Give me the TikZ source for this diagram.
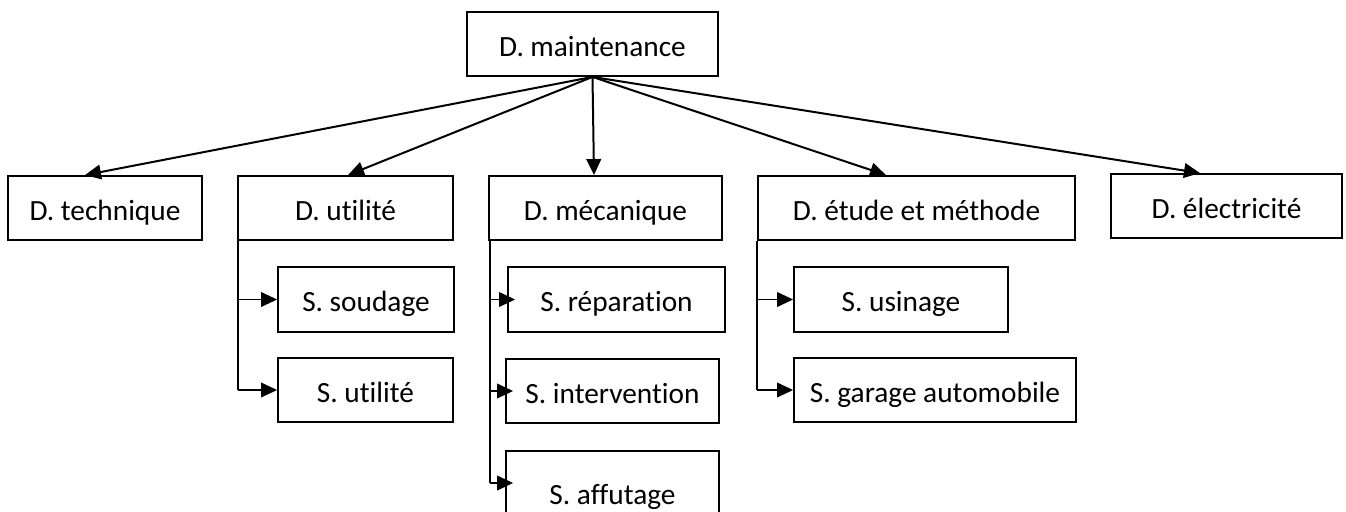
\documentclass[tikz,border=0pt]{standalone}
\usepackage{fontspec}
\setmainfont{Carlito}[Ligatures=NoCommon]
\usetikzlibrary{arrows.meta}
\begin{document}
\begin{tikzpicture}[x=0.75pt,y=-0.75pt,
  box/.style={draw,line width=1.4pt,inner sep=0pt,
    font=\fontsize{22pt}{26pt}\selectfont,
    text height=19.5pt,text depth=1.5pt},
  toparrow/.style={line width=1.5pt,-{Triangle[length=12pt,width=11pt]}},
  branchline/.style={line width=1pt},
  brancharrow/.style={line width=1.2pt,-{Triangle[length=12pt,width=11pt]}}]
\clip (0,0) rectangle (1346,511);

% head of the department
\node[box,minimum width=251*0.75pt,minimum height=64*0.75pt] (top) at (592.5,44) {D. maintenance};

% divisions
\node[box,minimum width=194*0.75pt,minimum height=64*0.75pt] (tech)  at (105,208)    {D. technique};
\node[box,minimum width=215*0.75pt,minimum height=64*0.75pt] (util)  at (345.5,208)  {D. utilité};
\node[box,minimum width=233*0.75pt,minimum height=64*0.75pt] (meca)  at (605.5,208)  {D. mécanique};
\node[box,minimum width=317*0.75pt,minimum height=64*0.75pt] (etude) at (916.5,208)  {D. étude et méthode};
\node[box,minimum width=231*0.75pt,minimum height=64*0.75pt] (elec)  at (1226.5,206) {D. électricité};

% services
\node[box,minimum width=176*0.75pt,minimum height=65*0.75pt] (soud)  at (366,299.5)   {S. soudage};
\node[box,minimum width=175*0.75pt,minimum height=64*0.75pt] (sutil) at (365.5,390)   {S. utilité};
\node[box,minimum width=217*0.75pt,minimum height=65*0.75pt] (repar) at (616.5,299.5) {S. réparation};
\node[box,minimum width=213*0.75pt,minimum height=64*0.75pt] (inter) at (612.5,391)   {S. intervention};
\node[box,minimum width=213*0.75pt,minimum height=64*0.75pt,
      text height=32.5pt,text depth=1pt] (affut) at (612.5,483) {S. affutage};
\node[box,minimum width=214*0.75pt,minimum height=65*0.75pt] (usin)  at (901,299.5)   {S. usinage};
\node[box,minimum width=282*0.75pt,minimum height=64*0.75pt] (garag) at (935,390)     {S. garage automobile};

% links from the head
\draw[toparrow] (top.south) -- ([xshift=-20*0.75pt]tech.north);
\draw[toparrow] (top.south) -- ([xshift=2.5*0.75pt]util.north);
\draw[toparrow] (top.south) -- ([xshift=-11.5*0.75pt]meca.north);
\draw[toparrow] (top.south) -- ([xshift=-30.5*0.75pt]etude.north);
\draw[toparrow] (top.south) -- ([xshift=-26.5*0.75pt]elec.north);

% branches to the services
\draw[branchline] ([xshift=0.75pt]util.south west) -- ([xshift=0.75pt]util.south west |- sutil.west);
\draw[brancharrow] ([xshift=0.75pt]util.south west |- soud.west) -- (soud.west);
\draw[brancharrow] ([xshift=0.75pt]util.south west |- sutil.west) -- (sutil.west);

\draw[branchline] ([xshift=1.5pt]meca.south west) -- ([xshift=1.5pt]meca.south west |- affut.west);
\draw[brancharrow] ([xshift=1.5pt]meca.south west |- repar.west) -- ([xshift=6pt]repar.west);
\draw[brancharrow] ([xshift=1.5pt]meca.south west |- inter.west) -- ([xshift=6pt]inter.west);
\draw[brancharrow] ([xshift=1.5pt]meca.south west |- affut.west) -- ([xshift=6pt]affut.west);

\draw[branchline] (etude.south west) -- (etude.south west |- garag.west);
\draw[brancharrow] (etude.south west |- usin.west) -- (usin.west);
\draw[brancharrow] (etude.south west |- garag.west) -- (garag.west);
\end{tikzpicture}
\end{document}
